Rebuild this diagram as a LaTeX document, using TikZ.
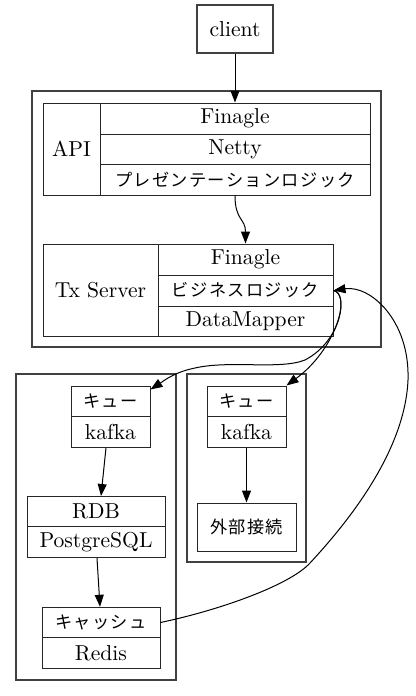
\documentclass[tikz,border=0pt]{standalone}
\usepackage{fontspec}
\newfontfamily\jp[LetterSpace=8]{Noto Sans CJK JP}
\usetikzlibrary{arrows.meta}
\tikzset{
  cell/.style={draw=black!85, line width=0.5pt, inner sep=0pt, font=\fontsize{10.8}{13}\selectfont},
  jcell/.style={cell, font=\jp\fontsize{8.6}{10}\selectfont},
  cluster/.style={draw=black!75, line width=0.9pt, inner sep=0pt},
  arr/.style={-{Triangle[length=6pt,width=4.5pt]}, line width=0.5pt},
}
\begin{document}
\begin{tikzpicture}[x=0.5pt,y=-0.5pt]
\useasboundingbox (0,0) rectangle (416,696);
% clusters
\node[cluster, minimum width=174.5pt, minimum height=128pt] (cl1) at (206.5,219) {};
\node[cluster, minimum width=80pt, minimum height=153pt] (cl2) at (96,527) {};
\node[cluster, minimum width=59.5pt, minimum height=94pt] (cl3) at (246.5,468) {};
% client
\node[cell, draw=black!75, line width=0.9pt, minimum width=38pt, minimum height=24pt] (client) at (235,29) {client};
% API record
\node[cell, minimum width=28.5pt, minimum height=46pt] (api) at (71.5,149) {API};
\node[cell, minimum width=135pt, minimum height=15.5pt] (api1) at (235,118.5) {Finagle};
\node[cell, minimum width=135pt, minimum height=15pt] (api2) at (235,149) {Netty};
\node[jcell, minimum width=135pt, minimum height=15.5pt] (api3) at (235,179.5) {プレゼンテーションロジック};
% Tx Server record
\node[cell, minimum width=57.5pt, minimum height=46pt] (tx) at (100.5,290) {Tx Server};
\node[cell, minimum width=87.5pt, minimum height=15.5pt] (tx1) at (245.5,259.5) {Finagle};
\node[jcell, minimum width=87.5pt, minimum height=15.5pt] (tx2) at (245.5,290.5) {ビジネスロジック};
\node[cell, minimum width=87.5pt, minimum height=15pt] (tx3) at (245.5,321) {DataMapper};
% left cluster
\node[jcell, minimum width=39.5pt, minimum height=15.35pt] (q1a) at (110.5,401.35) {キュー};
\node[cell, minimum width=39.5pt, minimum height=15.3pt] (q1b) at (110.5,432) {kafka};
\node[cell, minimum width=69pt, minimum height=15.1pt] (r1) at (96,511.6) {RDB};
\node[cell, minimum width=69pt, minimum height=15.5pt] (r2) at (96,542.2) {PostgreSQL};
\node[jcell, minimum width=59pt, minimum height=15.2pt] (k1) at (101,622.5) {キャッシュ};
\node[cell, minimum width=59pt, minimum height=15.3pt] (k2) at (101,653) {Redis};
% right cluster
\node[jcell, minimum width=39.5pt, minimum height=15.35pt] (q2a) at (246.5,401.35) {キュー};
\node[cell, minimum width=39.5pt, minimum height=15.3pt] (q2b) at (246.5,432) {kafka};
\node[jcell, minimum width=49.5pt, minimum height=24pt] (ext) at (246.5,527) {外部接続};
% edges
\draw[arr] (client) -- (api1);
\draw[arr] (api3.south) .. controls +(0,25) and +(0,-25) .. (tx1.north);
\draw[arr] ([xshift=-2.25pt]q1b.south) -- ([xshift=2.5pt]r1.north);
\draw[arr] ([xshift=0.5pt]r2.south) -- ([xshift=-0.5pt]k1.north);
\draw[arr] (q2b) -- (ext);
\draw[arr] (tx2.east) .. controls (348,292) and (343,340) .. (305,360)
  .. controls (280,370) and (230,360) .. (195,368)
  .. controls (175,372) and (165,380) .. ([yshift=-2pt]q1a.north east);
\draw[arr] (tx2.east) .. controls (352,295) and (335,350) .. (q2a.north east);
\draw[arr] (k1.east) .. controls (220,610) and (290,585) .. (310,563)
  .. controls (350,520) and (405,450) .. (408,380)
  .. controls (410,320) and (370,285) .. (tx2.east);
\end{tikzpicture}
\end{document}
